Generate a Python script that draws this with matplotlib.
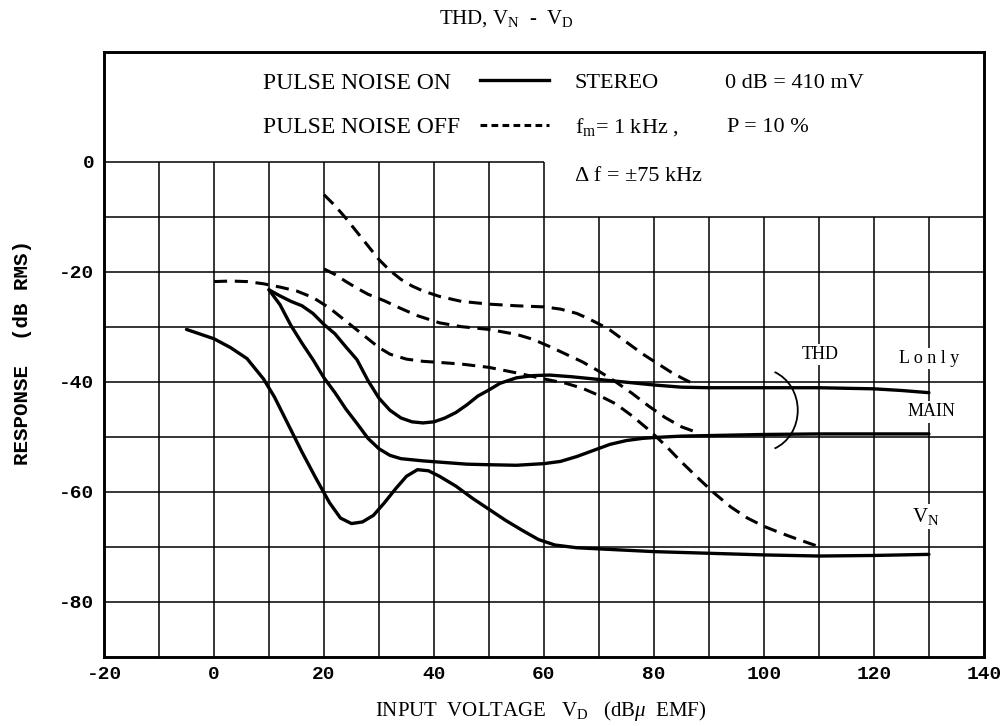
import numpy as np
import matplotlib
matplotlib.use('Agg')
import matplotlib.pyplot as plt
from matplotlib.lines import Line2D
from matplotlib.patches import Arc

plt.rcParams['axes.unicode_minus'] = False
plt.rcParams['mathtext.fontset'] = 'custom'
plt.rcParams['mathtext.rm'] = 'Liberation Serif'
plt.rcParams['mathtext.it'] = 'Liberation Serif:italic'

SERIF = 'Liberation Serif'
MONO = 'Liberation Mono'

# ---- curves: input voltage (dBu EMF) vs response (dB RMS)
# V_N, pulse noise on
vn_x = [-5, 0, 3, 6, 9, 11, 13.5, 16, 18.5, 21, 23, 25, 27, 29, 31, 33, 35, 37, 39,
        41, 44, 47, 50, 53, 56, 59, 62, 66, 70, 80, 90, 100, 110, 120, 130]
vn_y = [-30.5, -32.2, -33.8, -35.8, -39.5, -42.8, -47.8, -52.8, -57.5, -62, -64.8,
        -65.8, -65.5, -64.3, -62, -59.5, -57.2, -56, -56.2, -57.2, -59, -61.2, -63.2,
        -65.2, -67, -68.7, -69.7, -70.2, -70.4, -70.9, -71.2, -71.5, -71.7, -71.6, -71.4]

# THD MAIN, pulse noise on
main_x = [10, 12, 14, 16, 18, 20, 22, 24, 26, 28, 30, 32, 34, 38, 42, 46, 50, 55, 60,
          63, 66, 69, 72, 75, 78, 81, 85, 90, 100, 110, 120, 130]
main_y = [-23.3, -26, -29.8, -33, -36, -39.3, -42, -45, -47.6, -50.3, -52.2, -53.4,
          -54, -54.4, -54.7, -55, -55.1, -55.2, -54.9, -54.5, -53.6, -52.5, -51.4,
          -50.7, -50.3, -50.1, -49.9, -49.8, -49.6, -49.5, -49.5, -49.5]

# THD L only, pulse noise on
lonly_x = [10, 12, 14, 16, 18, 20, 22, 24, 26, 28, 30, 32, 34, 36, 38, 40, 42, 44, 46,
           48, 50, 52, 55, 58, 61, 65, 70, 75, 80, 85, 90, 100, 110, 120, 125, 130]
lonly_y = [-23.3, -24.4, -25.4, -26.2, -27.6, -29.6, -31.3, -33.7, -36, -39.8, -43,
           -45.2, -46.6, -47.3, -47.5, -47.3, -46.6, -45.6, -44.2, -42.6, -41.5, -40.3,
           -39.3, -38.9, -38.8, -39.1, -39.6, -40.1, -40.6, -41, -41.1, -41.1, -41.1,
           -41.3, -41.6, -42]

# pulse noise off curves
off1_x = [20, 22, 24, 26, 28, 30, 32, 34, 36, 38, 41, 45, 50, 55, 60, 63, 66, 68, 70,
          72, 75, 78, 80.5, 83, 85, 87]
off1_y = [-6, -8, -10.3, -12.8, -15.3, -17.8, -19.8, -21.4, -22.6, -23.5, -24.5,
          -25.4, -25.9, -26.2, -26.4, -26.8, -27.6, -28.5, -29.5, -30.6, -32.8, -35,
          -36.6, -38.2, -39.3, -40.3]

off2_x = [20, 22, 24, 26, 28, 31, 34, 37, 41, 45, 50, 55, 58, 61, 64, 67, 70, 73, 76,
          79, 82, 85, 88]
off2_y = [-19.5, -20.5, -21.8, -23, -24.1, -25.3, -26.7, -28, -29.3, -30, -30.5,
          -31.4, -32.3, -33.6, -35, -36.4, -38.1, -40, -42.1, -44.4, -46.5, -48.2, -49.3]

off3_x = [0, 3, 6, 9, 12, 15, 18, 21, 24, 27, 30, 32, 35, 38, 41, 45, 50, 55, 60, 64,
          67, 70, 73, 76, 79, 82, 85, 88, 91, 94, 97, 100, 103, 106, 110]
off3_y = [-21.8, -21.7, -21.8, -22.2, -22.8, -23.5, -24.7, -26.6, -29, -31.4, -33.8,
          -35, -35.9, -36.3, -36.5, -36.8, -37.4, -38.4, -39.5, -40.3, -41.2, -42.5,
          -44, -46.2, -48.7, -51.5, -54.6, -57.5, -60.3, -62.8, -64.8, -66.3, -67.5,
          -68.6, -70]

x_ticks = [-20, 0, 20, 40, 60, 80, 100, 120, 140]
y_ticks = [0, -20, -40, -60, -80]

fig = plt.figure(figsize=(10.05, 7.26), dpi=100)
ax = fig.add_axes([0.1035, 0.0955, 0.8755, 0.8333])
ax.set_xlim(-20, 140)
ax.set_ylim(-90, 20)

# graph paper: the upper band is left blank for the notes
grid_kw = dict(color='black', lw=1.1, zorder=1)
for gx in range(-10, 140, 10):
    ax.vlines(gx, -90, 0 if gx <= 60 else -10, **grid_kw)
ax.hlines(0, -20, 60, **grid_kw)
for gy in range(-10, -90, -10):
    ax.hlines(gy, -20, 140, **grid_kw)

solid = dict(color='black', lw=2.4, solid_capstyle='round', zorder=3)
dashed = dict(color='black', lw=2.2, dashes=(4.3, 2.5), zorder=3)

ax.plot(vn_x, vn_y, **solid)
ax.plot(main_x, main_y, **solid)
ax.plot(lonly_x, lonly_y, **solid)
ax.plot(off1_x, off1_y, **dashed)
ax.plot(off2_x, off2_y, **dashed)
ax.plot(off3_x, off3_y, **dashed)

# bracket grouping the two THD curves
ax.add_patch(Arc((99.4, -45.2), 13.5, 15.0, theta1=-70, theta2=70,
                 color='black', lw=1.3, zorder=3))

box = dict(facecolor='white', edgecolor='none', pad=1.5)
ax.text(110.3, -35, 'THD', family=SERIF, fontsize=13, ha='center', va='center',
        bbox=box, zorder=4)
ax.text(130, -35.8, 'L o n l y', family=SERIF, fontsize=13, ha='center', va='center',
        bbox=box, zorder=4)
ax.text(130.4, -45.5, 'MAIN', family=SERIF, fontsize=13, ha='center', va='center',
        bbox=box, zorder=4)
ax.text(129.5, -64.5, r'V$_\mathregular{N}$', family=SERIF, fontsize=15, ha='center',
        va='center', bbox=box, zorder=4)

# notes in the top band; the line keys come from a label-less legend
label_kw = dict(family=SERIF, fontsize=17, va='center', ha='left')
ax.text(9.0, 14.25, 'PULSE NOISE ON', **label_kw)
ax.text(9.0, 6.25, 'PULSE NOISE OFF', **label_kw)

handles = [Line2D([], [], color='black', lw=2.4),
           Line2D([], [], color='black', lw=2.2, dashes=(2.2, 1.4))]
leg = ax.legend(handles, ['', ''], loc='center left',
                bbox_to_anchor=(48.4, 10.25), bbox_transform=ax.transData,
                frameon=False, handlelength=2.9, handletextpad=0,
                labelspacing=1.0, borderpad=0, borderaxespad=0,
                prop=dict(family=SERIF, size=17))

note_kw = dict(family=SERIF, fontsize=16, va='center', ha='left')
ax.text(65.6, 14.25, 'STEREO', **note_kw)
ax.text(92.9, 14.25, '0 dB = 410 mV', **note_kw)
ax.text(65.6, 6.25, r'f$_\mathregular{m}$= 1 kHz ,', **note_kw)
ax.text(93.3, 6.25, 'P = 10 %', **note_kw)
ax.text(65.6, -2.7, 'Δ f = ±75 kHz', **note_kw)

ax.set_xticks(x_ticks)
ax.set_yticks(y_ticks)
ax.set_xticklabels([str(v) for v in x_ticks], family=MONO, fontsize=14, weight='bold')
ax.set_yticklabels([str(v) for v in y_ticks], family=MONO, fontsize=14, weight='bold')
ax.tick_params(length=0)
ax.tick_params(axis='x', pad=7)
ax.tick_params(axis='y', pad=7)
for sp in ax.spines.values():
    sp.set_linewidth(2.1)
    sp.set_zorder(5)

fig.text(0.504, 0.975, r'THD, V$_\mathregular{N}$  -  V$_\mathregular{D}$',
         family=SERIF, fontsize=15, ha='center', va='center')
fig.text(0.538, 0.02, r'INPUT  VOLTAGE   V$_\mathregular{D}$   (dB$\mu$  EMF)',
         family=SERIF, fontsize=15, ha='center', va='center')
fig.text(0.022, 0.515, 'RESPONSE  (dB RMS)', family=MONO, fontsize=15, weight='bold',
         rotation=90, ha='center', va='center')

fig.savefig('out.png', dpi=100)
